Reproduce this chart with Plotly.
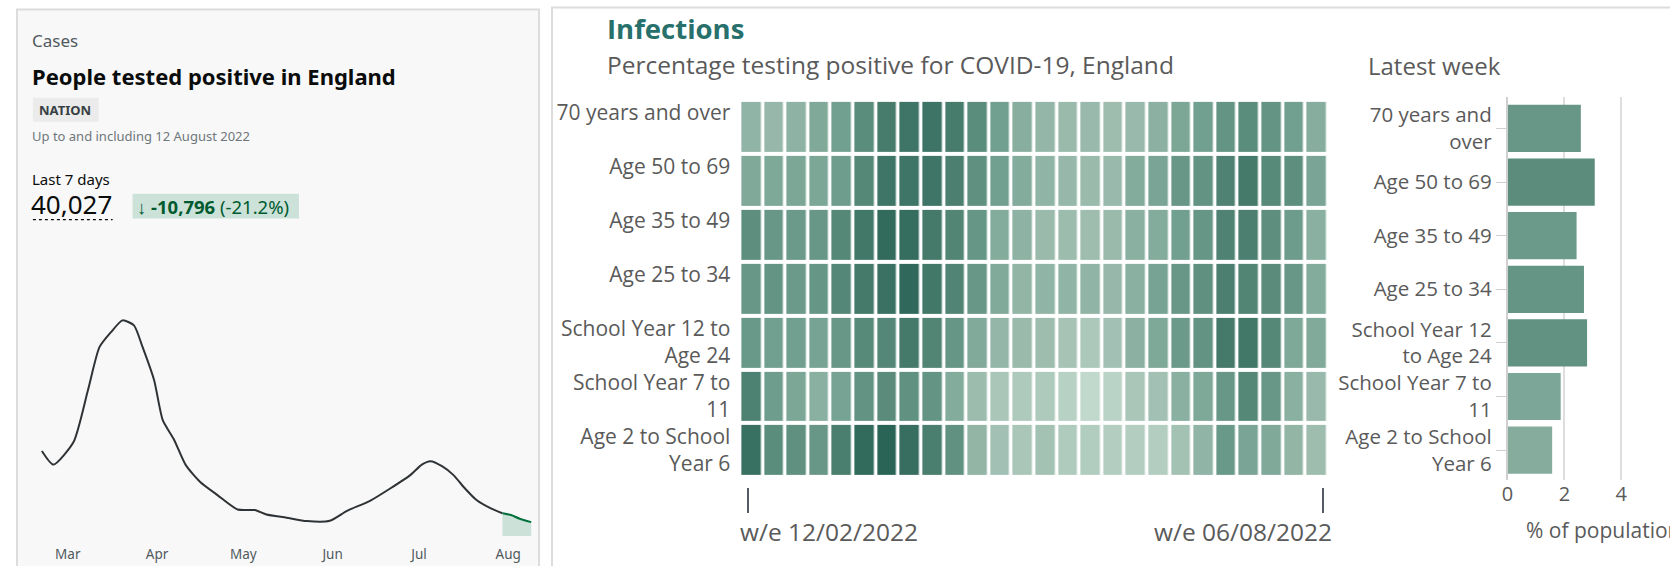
import plotly.graph_objects as go
import pandas as pd

W, H = 1670, 566


def px(x):
    return x / W


def py(y):
    return 1 - y / H


# ---------------- data: left panel (daily cases, England) ----------------
case_dates = ["2022-02-20", "2022-02-24", "2022-03-03", "2022-03-08", "2022-03-12",
              "2022-03-16", "2022-03-20", "2022-03-24", "2022-03-27", "2022-03-31",
              "2022-04-03", "2022-04-07", "2022-04-11", "2022-04-16", "2022-04-22",
              "2022-04-29", "2022-05-05", "2022-05-09", "2022-05-16", "2022-05-23",
              "2022-05-31", "2022-06-06", "2022-06-14", "2022-06-21", "2022-06-28",
              "2022-07-02", "2022-07-05", "2022-07-09", "2022-07-13", "2022-07-17",
              "2022-07-21", "2022-07-26", "2022-07-30"]
case_values = [32400, 27200, 35800, 55500, 71900,
               77600, 82100, 80200, 71900, 59300,
               44100, 36500, 27000, 20600, 15600,
               10100, 9900, 8200, 7000, 5700,
               5800, 9600, 13400, 18100, 23200,
               27200, 28500, 26600, 23200, 18100,
               13700, 10500, 8700]
last7_dates = ["2022-07-30", "2022-08-02", "2022-08-05", "2022-08-09"]
last7_values = [8700, 8000, 6600, 5300]
month_ticks = ["2022-03-01", "2022-04-01", "2022-05-01", "2022-06-01", "2022-07-01", "2022-08-01"]

# ---------------- data: heatmap ----------------
week_ending = ["2022-02-12", "2022-02-19", "2022-02-26", "2022-03-05", "2022-03-12", "2022-03-19",
               "2022-03-26", "2022-04-02", "2022-04-09", "2022-04-16", "2022-04-23", "2022-04-30",
               "2022-05-07", "2022-05-14", "2022-05-21", "2022-05-28", "2022-06-04", "2022-06-11",
               "2022-06-18", "2022-06-25", "2022-07-02", "2022-07-09", "2022-07-16", "2022-07-23",
               "2022-07-30", "2022-08-06"]
# single-line labels keep an empty second line, so they sit high in the row like the original
heat_labels = ["70 years and over<br> ", "Age 50 to 69<br> ", "Age 35 to 49<br> ", "Age 25 to 34<br> ",
               "School Year 12 to<br>Age 24", "School Year 7 to<br>11", "Age 2 to School<br>Year 6"]
pos_70plus = [3.5, 3.2, 3.6, 4.3, 5.0, 6.3, 7.5, 8.0, 8.1, 7.5, 6.3, 5.0, 3.9, 3.3, 3.0, 3.1, 2.8, 3.1, 3.7, 4.5, 5.0, 5.8, 6.3, 5.8, 5.0, 4.0]
pos_50_69 = [4.3, 4.4, 4.5, 4.5, 5.2, 6.6, 8.0, 8.0, 8.0, 7.2, 6.1, 5.0, 4.1, 3.5, 3.2, 3.0, 3.1, 4.1, 4.6, 5.6, 5.9, 7.0, 7.6, 6.5, 6.2, 4.6]
pos_35_49 = [6.2, 5.6, 5.4, 5.6, 6.6, 7.8, 8.8, 8.6, 7.6, 6.8, 5.7, 4.1, 3.6, 3.0, 2.9, 2.8, 3.0, 3.8, 4.1, 5.0, 5.7, 7.0, 7.2, 6.2, 5.3, 3.8]
pos_25_34 = [5.6, 5.8, 5.4, 5.7, 6.7, 7.6, 8.3, 8.9, 7.8, 6.9, 5.6, 4.2, 3.4, 3.5, 3.5, 3.5, 3.2, 3.8, 4.8, 5.6, 6.1, 7.2, 6.8, 6.4, 5.6, 4.1]
pos_sy12_24 = [5.5, 5.0, 5.0, 4.8, 5.6, 6.5, 6.7, 7.6, 6.8, 5.7, 4.2, 3.3, 3.0, 2.8, 2.4, 2.1, 2.6, 3.7, 4.4, 5.4, 5.9, 7.6, 7.8, 6.6, 4.4, 4.2]
pos_sy7_11 = [7.1, 5.2, 4.5, 3.8, 4.8, 5.9, 6.4, 6.0, 5.8, 4.1, 2.9, 2.2, 2.0, 2.0, 1.5, 1.0, 1.4, 2.2, 2.6, 3.8, 4.4, 5.6, 6.6, 5.6, 3.8, 3.1]
pos_age2_sy6 = [8.4, 6.3, 6.1, 5.6, 7.3, 8.8, 9.3, 8.5, 7.3, 6.0, 3.4, 2.6, 2.2, 2.5, 1.9, 1.8, 1.7, 1.7, 1.7, 2.5, 3.5, 5.5, 4.6, 4.3, 3.4, 2.8]

# ---------------- data: latest week bars ----------------
bar_labels = ["70 years and<br>over", "Age 50 to 69", "Age 35 to 49", "Age 25 to 34",
              "School Year 12<br>to Age 24", "School Year 7 to<br>11", "Age 2 to School<br>Year 6"]
latest_week = [2.58, 3.07, 2.43, 2.69, 2.80, 1.87, 1.57]

# ---------------- styles ----------------
GREEN_SCALE = [[0.0, "#c1d9cd"], [0.241, "#9abaac"], [0.482, "#72a090"],
               [0.723, "#4f8272"], [1.0, "#2a6456"]]
LBL = "#5a5a5a"
OS = "Open Sans"
GDS = "Noto Sans"
DX = -5  # small horizontal nudge of the left card contents

fig = go.Figure()

# left line chart
fig.add_trace(go.Scatter(x=case_dates, y=case_values, mode="lines",
                         line=dict(color="#2f3336", width=2, shape="spline", smoothing=0.6),
                         xaxis="x", yaxis="y", hoverinfo="skip", showlegend=False))
fig.add_trace(go.Scatter(x=last7_dates, y=last7_values, mode="lines", fill="tozeroy",
                         fillcolor="#cce2d8",
                         line=dict(color="#00703c", width=2, shape="spline", smoothing=0.6),
                         xaxis="x", yaxis="y", hoverinfo="skip", showlegend=False))

# heatmap
fig.add_trace(go.Heatmap(
    x=week_ending, y=heat_labels,
    z=[pos_70plus, pos_50_69, pos_35_49, pos_25_34, pos_sy12_24, pos_sy7_11, pos_age2_sy6],
    colorscale=GREEN_SCALE, zmin=1.0, zmax=9.3, showscale=False,
    xgap=3.5, ygap=4, xaxis="x2", yaxis="y2", hoverinfo="skip"))

# bars
fig.add_trace(go.Bar(x=latest_week, y=bar_labels, orientation="h",
                     marker=dict(color=latest_week, colorscale=GREEN_SCALE, cmin=-0.46, cmax=5.03,
                                 line=dict(width=0)),
                     width=0.88, xaxis="x3", yaxis="y3", hoverinfo="skip", showlegend=False))

# axis geometry for the line chart (month labels at fixed pixel spots)
mar1 = pd.Timestamp("2022-03-01")
m_left, m_right = 67 + DX, 506 - 2
ppd = (m_right - m_left) / 153.0
x_left_px, x_right_px = 40 + DX, 530
x_lo = mar1 - pd.Timedelta(days=(m_left - x_left_px) / ppd)
x_hi = mar1 + pd.Timedelta(days=(x_right_px - m_left) / ppd)
y_top_px, y_bot_px = 300, 536
y_max = (y_bot_px - y_top_px) * 380

# heatmap end ticks sit just outside the first / last column centres
tick_first = pd.Timestamp(week_ending[0]) - pd.Timedelta(days=1)
tick_last = pd.Timestamp(week_ending[-1]) + pd.Timedelta(days=2)

shapes = [
    dict(type="rect", xref="paper", yref="paper", x0=px(11), x1=px(535), y0=py(575), y1=py(8.5),
         fillcolor="#f8f8f8", line=dict(color="#dcdcdc", width=2), layer="below"),
    dict(type="rect", xref="paper", yref="paper", x0=px(548), x1=px(1690), y0=py(575), y1=py(6.5),
         fillcolor="#ffffff", line=dict(color="#dcdcdc", width=2), layer="below"),
    dict(type="rect", xref="paper", yref="paper", x0=px(32 + DX), x1=px(98 + DX), y0=py(121), y1=py(97),
         fillcolor="#ebebeb", line=dict(width=0), layer="below"),
    dict(type="rect", xref="paper", yref="paper", x0=px(132 + DX), x1=px(299 + DX), y0=py(218), y1=py(193),
         fillcolor="#cce2d8", line=dict(width=0), layer="below"),
    dict(type="line", xref="paper", yref="paper", x0=px(32 + DX), x1=px(112 + DX), y0=py(219), y1=py(219),
         line=dict(color="#0b0c0c", width=1.2, dash="dot")),
]

TX = -7
ann = [
    dict(text="Cases", x=px(31 + TX), y=py(40), font=dict(family=GDS, size=17, color="#505a5f")),
    dict(text="<b>People tested positive in England</b>", x=px(31 + TX), y=py(75),
         font=dict(family=GDS, size=22, color="#0b0c0c")),
    dict(text="<b>NATION</b>", x=px(38 + TX), y=py(109), font=dict(family=GDS, size=13, color="#383f43")),
    dict(text="Up to and including 12 August 2022", x=px(31 + TX), y=py(135),
         font=dict(family=GDS, size=13, color="#6f777b")),
    dict(text="Last 7 days", x=px(31 + TX), y=py(178), font=dict(family=GDS, size=15, color="#0b0c0c")),
    dict(text="40,027", x=px(30 + TX), y=py(203), font=dict(family=GDS, size=26, color="#0b0c0c")),
    dict(text="<b>↓ -10,796</b> (-21.2%)", x=px(136 + TX), y=py(205.5),
         font=dict(family=GDS, size=18.5, color="#005a30")),
    dict(text="<b>Infections</b>", x=px(601), y=py(28), font=dict(family=OS, size=27.5, color="#27706b")),
    dict(text="Percentage testing positive for COVID-19, England", x=px(601), y=py(64),
         font=dict(family=OS, size=24.5, color=LBL)),
    dict(text="Latest week", x=px(1365), y=py(65), font=dict(family=OS, size=24, color=LBL)),
    dict(text="w/e 12/02/2022", x=px(735), y=py(531), font=dict(family=OS, size=24.5, color=LBL)),
    dict(text="w/e 06/08/2022", x=px(1333), y=py(531), xanchor="right",
         font=dict(family=OS, size=24.5, color=LBL)),
    dict(text="% of population", x=px(1523), y=py(530), font=dict(family=OS, size=21, color=LBL)),
]
for a in ann:
    a.setdefault("xref", "paper")
    a.setdefault("yref", "paper")
    a.setdefault("xanchor", "left")
    a.setdefault("yanchor", "middle")
    a.setdefault("showarrow", False)

fig.update_layout(
    width=W, height=H, margin=dict(l=0, r=0, t=0, b=0),
    paper_bgcolor="#ffffff", plot_bgcolor="rgba(0,0,0,0)",
    showlegend=False, shapes=shapes, annotations=ann,
    xaxis=dict(domain=[px(x_left_px), px(x_right_px)], type="date", range=[x_lo, x_hi],
               tickvals=month_ticks, tickformat="%b", ticks="outside", ticklen=6,
               tickcolor="rgba(0,0,0,0)", showgrid=False, zeroline=False, showline=False,
               tickfont=dict(family=GDS, size=13.5, color="#505a5f"), anchor="y"),
    yaxis=dict(domain=[py(y_bot_px), py(y_top_px)], range=[0, y_max], visible=False,
               showgrid=False, zeroline=False, anchor="x"),
    xaxis2=dict(domain=[px(737), px(1327)], type="date",
                tickvals=[tick_first, tick_last], ticks="outside", ticklen=25,
                tickwidth=2, tickcolor="#555a66", showticklabels=False, showgrid=False,
                zeroline=False, showline=False, anchor="free", position=py(487)),
    yaxis2=dict(domain=[py(477), py(99)], type="category", categoryarray=heat_labels,
                autorange="reversed", showgrid=False, zeroline=False, ticks="",
                ticklabelstandoff=9, tickfont=dict(family=OS, size=21, color=LBL), anchor="x2"),
    xaxis3=dict(domain=[px(1507), 1.0], range=[0, 5.72], dtick=2, showgrid=True,
                gridcolor="#dedede", gridwidth=1.5, zeroline=False, showline=False, ticks="",
                tickfont=dict(family=OS, size=20, color=LBL), anchor="y3"),
    yaxis3=dict(domain=[py(480), py(96)], type="category", categoryarray=bar_labels,
                range=[6.56, -0.59], autorange=False, showgrid=False, zeroline=False,
                showline=True, linecolor="#cfcfcf", linewidth=1.5, ticks="outside", ticklen=10,
                tickcolor="#cfcfcf", tickfont=dict(family=OS, size=20.5, color=LBL), anchor="x3"),
)

fig.write_html("out.html", config={"displayModeBar": False},
               post_script="document.body.style.margin='0';document.body.style.overflow='hidden';")
